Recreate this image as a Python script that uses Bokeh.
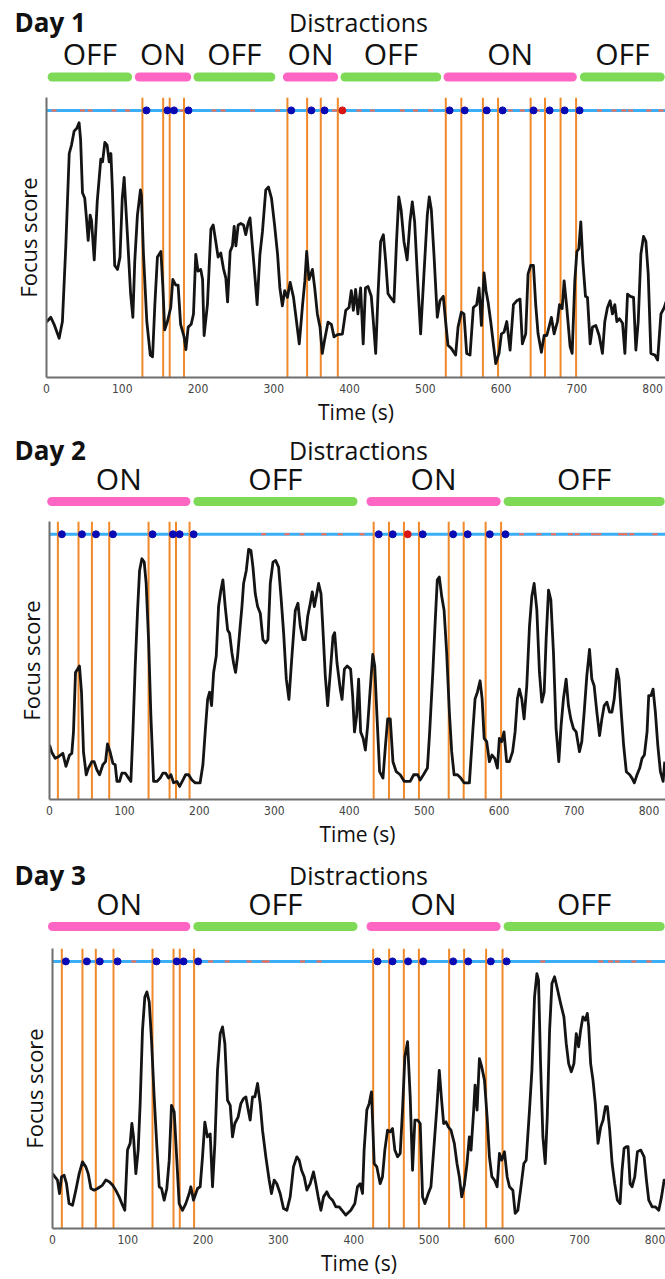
from bokeh.plotting import figure
from bokeh.layouts import column
from bokeh.models import Range1d, FixedTicker
from bokeh.core.properties import value
from bokeh.embed import file_html
from bokeh.resources import INLINE

# ---------------------------------------------------------------- data ----
TIME_TICKS = [0, 100, 200, 300, 400, 500, 600, 700, 800]

# Focus score traces (time in s, score on a 0-100 scale)
DAY1_T = [0, 5.7, 10, 16.7, 21, 25.5, 30, 33, 36.5, 40, 43, 45, 47.5, 50.5, 53, 55, 57.6, 59.4, 63, 67, 71.7, 74, 77, 80, 82.7, 85, 87, 90, 93.7, 97, 100, 102.5, 107, 111, 114, 116.5, 120, 124, 125.3, 128, 132.4, 137, 140, 143, 146.4, 151, 153.5, 156, 159.6, 164, 166.7, 170.6, 173.7, 177, 181.6, 184, 187, 191, 194, 197, 200, 203.6, 206, 208, 212.4, 217, 220, 223.4, 226.5, 230, 233.5, 236.7, 239, 242.4, 245.4, 247.7, 250, 253, 256.4, 260, 263, 266, 268.6, 271.7, 274.8, 278, 281.7, 285, 289.4, 293, 297, 301, 305, 308, 311.3, 314.4, 318, 321.6, 326, 330, 333.6, 338, 341, 343.4, 346.5, 351, 354, 357.5, 361, 364, 367, 371.6, 376, 379.5, 384, 390.5, 395, 399.3, 402.3, 405, 408, 411, 414.6, 418, 421, 424.3, 428.7, 431.4, 434.5, 437.6, 441, 444.6, 447.7, 450.7, 454, 458.6, 462, 465, 468, 471.8, 476, 479.7, 482.8, 485.9, 489.4, 493.8, 498.2, 502.6, 505.2, 507.9, 511.4, 515.8, 519.3, 523.7, 526.8, 529.9, 534.3, 540, 543.2, 547.5, 551, 554.6, 559, 563.4, 567.8, 570.9, 574, 577.5, 580.1, 582.8, 586.3, 589.8, 592.9, 597.3, 600.4, 603.9, 607.5, 611.9, 616.3, 620.6, 625, 628.1, 632.5, 635.6, 639.1, 642.7, 645.7, 648.8, 653.2, 656.8, 660.3, 663.8, 666.4, 670, 674.4, 677.1, 680.6, 683.2, 686.7, 691.1, 693.8, 697.3, 700, 702.6, 705.2, 707.9, 711.4, 714, 717.6, 720.6, 725, 729.4, 733.8, 736.9, 740.4, 743.9, 747, 750.1, 752.8, 756.3, 760.3, 763.4, 766.9, 770.4, 774.8, 777.9, 781, 784.5, 788, 791.1, 794.2, 797.7, 803, 806.6, 811, 815.4, 817.6]
DAY1_SCORE = [19.8, 21.5, 19, 14, 20, 47, 80, 83, 88, 89, 91, 85, 66, 64, 56, 49, 58, 56, 42, 63, 78, 77, 84, 83, 77, 80, 67, 40, 38.6, 43, 64, 71.5, 50, 30, 21.5, 41.5, 58, 67, 65, 44, 20, 8, 7.4, 26, 43, 45, 33, 17, 20, 25, 35, 33, 33, 19, 14.5, 10, 18, 19, 22.7, 44, 38, 38.6, 35, 15, 26, 53, 54.5, 48.6, 43, 44.5, 39, 35.5, 27, 45, 47, 54, 47, 54.5, 55, 54.5, 51, 55, 57, 47, 37, 26, 44, 52, 67, 68, 64, 54.5, 44, 32, 25.6, 31, 28.6, 34, 28.6, 20, 12, 26, 34.5, 45, 35, 38.6, 32, 22.7, 18, 8.6, 13.3, 19.8, 19, 14.5, 15.3, 15.5, 24, 25, 31, 24, 31.5, 22.7, 32, 12, 32, 32.5, 29, 20, 8.6, 30, 48.6, 51, 41.5, 30, 28.6, 27, 48.6, 64.5, 60, 48.6, 42, 55.6, 62.7, 55.6, 37, 15.6, 37, 58, 64.5, 60, 44, 21.5, 27.4, 29, 20, 11.5, 10.4, 8, 18, 23.3, 22.7, 8.6, 8, 25, 26, 32, 18.6, 37.4, 31, 27, 20, 12, 5, 8.6, 15.6, 16.2, 20, 9.8, 26, 27.4, 28, 12, 15.6, 37, 40, 40, 26, 15.6, 9, 15, 15, 18.6, 21.5, 15.6, 20, 26, 24.6, 34.5, 25, 11, 8.6, 34.5, 45, 46, 55.6, 41.5, 29, 28.6, 12, 18, 18.6, 15, 8.6, 20, 25, 27.4, 22.7, 26, 20, 21, 19.4, 8.6, 29.8, 29, 28.6, 9.8, 20, 44, 50.4, 48.6, 37, 8.6, 8, 6.2, 22.7, 25, 27]

DAY2_T = [0, 3, 7.6, 12, 17.8, 22, 26.7, 29.8, 32, 34.7, 37.4, 40, 42.7, 45.4, 49, 52, 56.5, 59.6, 63.2, 66.8, 71.2, 74.8, 77.4, 81, 84.6, 87.7, 90, 93.5, 96.6, 101, 105.5, 108.6, 111.3, 114.4, 117.5, 120.2, 123.3, 126.4, 129, 132.2, 135.3, 138.9, 143.3, 147.7, 151.3, 154.9, 158.9, 162, 165.6, 170, 173.6, 178, 181.6, 185.6, 190, 194.5, 201, 204.7, 207.8, 211, 213.6, 216.3, 219, 222.5, 225.6, 228.7, 231.4, 234.5, 237.7, 240.3, 243.4, 245.7, 248.3, 251, 253.7, 256.8, 259, 262.6, 265.7, 268.8, 271.5, 274.6, 277.7, 281.3, 284.8, 288.4, 291.5, 294.6, 298.2, 301.7, 305.7, 308.9, 312.4, 316, 319.5, 323.5, 328, 331.5, 334.7, 338.2, 341.3, 344.5, 348, 350.7, 353.4, 356, 359.1, 362.3, 364.9, 368, 371.2, 374.7, 378.3, 380.5, 383.7, 388, 390.4, 393.5, 397.3, 401.8, 404.5, 407, 409.8, 412.5, 415.2, 418.5, 421.5, 424.6, 428.3, 431.4, 434, 437, 440.5, 445, 448, 451.3, 454.7, 458.3, 462.7, 468, 473.5, 481.3, 486, 491.4, 494.5, 499, 504.3, 507.3, 511.5, 515, 517.5, 520.2, 523.4, 526.5, 530, 533.6, 536.7, 539.9, 544.3, 548.8, 553.2, 560.3, 564.8, 567.9, 571, 574.6, 577.3, 580, 583.4, 587, 590.5, 594.1, 597.7, 600.3, 603.4, 606.5, 610, 613.7, 618, 621.3, 624.4, 627, 630.2, 633.3, 636.9, 640.5, 643.6, 646.7, 650.3, 653.8, 657, 660.1, 662.7, 665.9, 669, 672.5, 676, 679.6, 682.7, 685.8, 689.4, 692.5, 695.6, 699.2, 702.8, 707.2, 710.3, 713.5, 717, 720.6, 723.7, 726.8, 730.4, 734, 737.1, 740.2, 743.8, 747.4, 750.5, 753.6, 757.2, 759.9, 762.6, 766.1, 769.7, 774.2, 777.3, 780.4, 784, 787.6, 790.7, 793.8, 797.4, 799.6, 802.7, 805.4, 808.5, 811.7, 815.2, 818.8, 821]
DAY2_SCORE = [19.6, 17, 14.8, 15.4, 16.6, 11.9, 16, 16.6, 24.3, 45.7, 46.9, 48, 38.6, 17, 8.9, 11.3, 13.6, 13.6, 10.7, 8.9, 12.5, 13.6, 20, 17, 13, 12.5, 6.5, 6.5, 9.5, 9.5, 7.7, 6.5, 24.3, 48, 68, 82.4, 86.6, 85.4, 77.7, 57.5, 30, 6.5, 6.5, 7.7, 9.5, 9.5, 7.7, 8.9, 6, 6.5, 4.7, 7, 8.9, 8.9, 7, 6, 6, 12.5, 24.3, 36, 38.6, 33.8, 45.7, 51.6, 69.4, 75.3, 79, 69.4, 61, 59.8, 52.8, 49, 45.7, 51.6, 60, 69.4, 77.7, 82.4, 90, 89.6, 83.6, 74, 69.4, 67, 57.5, 56.3, 57.5, 77.7, 85.4, 86, 83.6, 73, 60, 43.3, 36, 51.6, 68, 70.6, 62.3, 57.5, 57.5, 65.8, 70.6, 74.7, 69.4, 73, 77.7, 74, 61, 44.5, 33.8, 45.7, 58.7, 60, 49, 39.7, 36, 46.9, 48, 46.9, 37.4, 24.3, 30, 43.3, 24.3, 22, 17.8, 26.7, 41, 52.2, 48, 30, 10, 7.7, 18.4, 29, 29, 13.6, 10, 8.9, 6.5, 6.5, 8.9, 8.9, 7, 8.9, 11.3, 24.3, 45.7, 65.8, 79, 80, 73, 68.2, 52.8, 31.4, 17.2, 8.9, 8.9, 7.7, 6, 6, 24.3, 36.2, 38.6, 42.7, 36.2, 22, 20.8, 13.6, 16, 14.8, 11.3, 22, 20.8, 24.3, 13.6, 13.6, 17.2, 24.3, 36.2, 39.7, 36.2, 29, 41, 62.3, 73, 77.7, 68.2, 45.7, 35, 38.6, 57.5, 75.3, 71.8, 52.8, 25.5, 13.6, 26.7, 36.2, 43.3, 33.8, 29, 25.5, 24.3, 17.2, 20.8, 31.4, 44.5, 54, 43.3, 40.9, 31.4, 23, 29, 33.8, 35, 31.4, 31.4, 36.2, 46.9, 43.3, 32.6, 19.6, 10, 8.9, 7.7, 6, 8.9, 11.3, 14.8, 16, 24.3, 37.4, 37.4, 39.7, 31.4, 19.6, 10, 6.5, 13.6]

DAY3_T = [0, 3, 6.6, 9.3, 12, 15.5, 18.6, 22, 26.6, 31, 35.4, 39.8, 44.3, 47.4, 51, 55.3, 59.8, 63.3, 66.4, 70.8, 75.3, 79.7, 84, 88.5, 93, 96, 99.6, 103.1, 105.4, 107.6, 110.7, 113.8, 116.4, 119.5, 122.6, 125.3, 128.4, 131.5, 135, 138.6, 141.7, 144.8, 148.3, 151.8, 155, 158, 161.6, 165.1, 168.2, 172.6, 177, 181.5, 183.7, 187.2, 192.6, 196.1, 199.2, 202.3, 205.8, 209.4, 212.5, 215.6, 219.1, 222.7, 225.8, 228.9, 232.4, 236, 239, 242.1, 246.6, 250.1, 253.6, 256.8, 259.9, 262.5, 265.6, 268.7, 272.3, 275.8, 278.9, 283.3, 287.7, 290.8, 294.4, 297.9, 302.3, 306.8, 311.2, 315.6, 320, 324.5, 327.6, 330.7, 334.2, 337.8, 342.2, 346.6, 349.7, 352.8, 356.4, 359.9, 364.3, 367.4, 371.8, 376.3, 380.7, 389.5, 396.2, 401.5, 405, 408.5, 411.7, 413.8, 417.4, 420.5, 423.6, 427.2, 430.7, 435.1, 438.2, 441.3, 444.9, 448.4, 451.5, 454.6, 458.2, 461.7, 464.8, 467.9, 471.5, 475, 478.1, 481.2, 484.8, 488.3, 491.4, 494.5, 499, 502.5, 506.9, 510.5, 513.6, 516.7, 519.4, 522.5, 525.6, 529.1, 533.6, 537.1, 540.2, 543.4, 546.9, 550.4, 553.5, 555.8, 559.3, 561.1, 563.8, 566.9, 570, 573.6, 577.1, 580.2, 583.4, 586.9, 590.4, 593.5, 596.6, 600.2, 603.7, 606.8, 611.3, 614.4, 617.9, 621.5, 625.9, 629, 633.4, 636.6, 640.1, 643.2, 645.4, 648.1, 651.2, 654.3, 657, 660.1, 663.2, 666.7, 670.3, 674.7, 679.1, 682.2, 685.4, 688.9, 692.4, 695.5, 698.6, 701.3, 704.4, 707.5, 710.2, 712, 714.6, 717.7, 720.8, 724.4, 728, 731.1, 734.2, 736.8, 739.9, 743.1, 746.6, 750.1, 753.7, 756.3, 759, 762.1, 764.3, 767, 769.6, 773.2, 776.7, 781.2, 785.6, 788.7, 791.8, 796.3, 800.7, 805.1, 808.7, 812.2, 815.3]
DAY3_SCORE = [19.6, 18.5, 17.3, 12.5, 18.5, 19, 16, 8.9, 8.3, 13.7, 19.6, 23.8, 22, 19.6, 14.3, 13.7, 14.3, 14.9, 15.5, 17.3, 16.7, 15.5, 13.7, 11.3, 8.3, 6.5, 28, 30.4, 37.5, 32.7, 19.6, 28, 44.6, 70.8, 82.7, 84.5, 81, 67.3, 47, 29.2, 14.9, 14.3, 10.1, 14.3, 24.4, 44, 41.7, 24.4, 8.9, 6.5, 8.9, 12.5, 14.9, 10.1, 14.3, 14.9, 25.6, 38, 32.7, 33.8, 14.9, 30.4, 56.5, 69.6, 72, 66, 45.8, 44, 32.7, 37.5, 39.9, 44.6, 46.4, 47, 42.3, 38.7, 47, 47, 51.8, 44.6, 35.1, 25.6, 17.3, 12.5, 17.3, 16, 12.5, 7.1, 6.5, 11.3, 22, 25.6, 24.4, 20.8, 18.5, 13.7, 16, 20.2, 16, 11.3, 6.5, 11.3, 13.1, 11.3, 10.1, 7.7, 7.7, 4.8, 6.5, 8.9, 14.9, 16, 12.5, 28, 42.3, 44.6, 48.8, 23.2, 22, 16, 18.5, 28, 35.1, 34.5, 35.7, 28, 25.6, 26.8, 42.3, 61.3, 66.7, 47, 20.8, 38.7, 38.7, 37.5, 11.3, 8.9, 12.5, 14.9, 30.4, 43.5, 56.5, 45.8, 37.5, 38.1, 36.3, 35.1, 30.4, 23.2, 18.5, 11.3, 15.5, 23.2, 32.7, 28, 42.3, 51.2, 42.3, 60.7, 57.7, 53, 39.9, 25.6, 18.5, 17.3, 14.9, 26.8, 24.4, 27.4, 18.5, 14.9, 13.7, 5.4, 6.5, 13.7, 23.2, 24.4, 42.3, 56.5, 82.7, 91, 88.7, 58.9, 32.7, 23.2, 39.9, 70.8, 87.5, 89.9, 85.7, 80.4, 75.6, 66, 58.9, 56, 58.9, 69.6, 64.9, 70.8, 75.6, 74.4, 76.8, 72, 58.9, 53, 44.6, 30.4, 36.3, 38.7, 43.5, 43.5, 35.1, 23.2, 16, 10.1, 8.9, 20.8, 28.6, 29.2, 29.2, 16, 14.9, 18.5, 27.4, 28, 25.6, 17.3, 10.1, 7.7, 7.7, 6.5, 11.3, 17.3, 16]

# Distraction onsets (s)
DAY1_EVENTS = [126.6, 154, 162.6, 181.5, 318, 344, 362, 384.5, 527, 547.5, 576, 596, 639, 658, 678.5, 699]
DAY2_EVENTS = [11.2, 38.7, 56.6, 79.7, 132.2, 160.2, 168.8, 186.9, 432.6, 453, 473, 493, 532.7, 552.7, 582, 602.6]
DAY3_EVENTS = [12.4, 39.8, 57.5, 81, 132.8, 160.7, 169, 188, 425.8, 447, 466.5, 486.5, 526.7, 546.6, 575.8, 597.6]

# Responses to each distraction (s) and whether it was missed
DAY1_RESP = [131.9, 159.6, 168.3, 187.3, 323, 349.6, 367, 390.5, 532, 552, 581, 602, 642.8, 664, 683.8, 703.6]
DAY1_MISSED = [0, 0, 0, 0, 0, 0, 0, 1, 0, 0, 0, 0, 0, 0, 0, 0]
DAY2_RESP = [16.5, 43.3, 62, 84.6, 137.5, 164.7, 173.6, 192.3, 439.3, 458, 478, 498, 538.6, 558, 587.5, 608.4]
DAY2_MISSED = [0, 0, 0, 0, 0, 0, 0, 0, 0, 0, 1, 0, 0, 0, 0, 0]
DAY3_RESP = [17.7, 45.6, 62.8, 86.3, 138, 165, 174, 193.4, 431.6, 451.5, 472.2, 492.2, 532, 552, 582, 603]
DAY3_MISSED = [0, 0, 0, 0, 0, 0, 0, 0, 0, 0, 0, 0, 0, 0, 0, 0]

# Short stray key presses (s)
DAY1_STRAY = [10, 47.5, 57.6, 89, 107, 179, 221, 233, 272, 305, 380, 412.5, 430, 469.6, 487, 507, 612, 628, 648, 730, 749, 762, 771, 795, 811]
DAY2_STRAY = [285.7, 317, 337, 366, 388, 417, 630, 653, 672.5, 695, 704, 726, 733, 762, 768, 777, 808]
DAY3_STRAY = [108, 210, 232, 261, 281, 285, 332, 354, 651, 728, 741, 750, 772, 792]

# Distraction blocks: visible start, visible end (s) and state
DAY1_BLOCK_START = [1.5, 116.5, 194, 312, 388, 524, 704]
DAY1_BLOCK_END = [113, 191, 302, 385, 521, 700, 816]
DAY1_BLOCK_STATE = ["OFF", "ON", "OFF", "ON", "OFF", "ON", "OFF"]
DAY2_BLOCK_START = [-3, 192, 423, 606]
DAY2_BLOCK_END = [188, 411, 602, 821]
DAY2_BLOCK_STATE = ["ON", "OFF", "ON", "OFF"]
DAY3_BLOCK_START = [-6, 187, 417, 599]
DAY3_BLOCK_END = [183, 405, 595, 813]
DAY3_BLOCK_STATE = ["ON", "OFF", "ON", "OFF"]

DAY_NAMES = ["Day 1", "Day 2", "Day 3"]
HEADER = "Distractions"

# --------------------------------------------------------------- style ----
PAGE_W = 665
GREEN = "#7ED957"
PINK = "#FF66C4"
ORANGE = "#F0892A"
SKY = "#3AAEF6"
NAVY = "#0A0AB4"
RED = "#D81414"
STRAY = "#FF6E50"
AXIS = "#6E6E6E"
FONT = "Open Sans"
TICK_FONT = "'Liberation Sans Narrow', 'DejaVu Sans Condensed', sans-serif"
BAR_W = 9
TRACK_Y = 95.4

# per panel: left margin (px), right end of time axis (s), header height,
# frame height, bottom border, header rows (px from the header top)
PANELS = [
    dict(left=46, x_end=817, head_h=97, frame_h=284, bottom=47, title_y=21, state_y=53, bar_y=76.5),
    dict(left=49, x_end=822, head_h=93, frame_h=281, bottom=48, title_y=21, state_y=50, bar_y=73),
    dict(left=52, x_end=814, head_h=98, frame_h=280, bottom=51, title_y=24, state_y=53, bar_y=76),
]

DATA = [
    (DAY1_T, DAY1_SCORE, DAY1_EVENTS, DAY1_RESP, DAY1_MISSED, DAY1_STRAY,
     DAY1_BLOCK_START, DAY1_BLOCK_END, DAY1_BLOCK_STATE),
    (DAY2_T, DAY2_SCORE, DAY2_EVENTS, DAY2_RESP, DAY2_MISSED, DAY2_STRAY,
     DAY2_BLOCK_START, DAY2_BLOCK_END, DAY2_BLOCK_STATE),
    (DAY3_T, DAY3_SCORE, DAY3_EVENTS, DAY3_RESP, DAY3_MISSED, DAY3_STRAY,
     DAY3_BLOCK_START, DAY3_BLOCK_END, DAY3_BLOCK_STATE),
]


def bare(fig):
    fig.grid.visible = False
    fig.outline_line_color = None
    fig.background_fill_color = "white"
    fig.border_fill_color = "white"
    fig.frame_align = False


def header_fig(name, cfg, b_start, b_end, b_state):
    spp = cfg["x_end"] / (PAGE_W - cfg["left"])  # seconds per pixel
    x0 = -cfg["left"] * spp
    hh = cfg["head_h"]
    h = figure(width=PAGE_W, height=hh, x_range=Range1d(x0, cfg["x_end"]),
               y_range=Range1d(hh, 0), min_border=0,
               x_axis_location=None, y_axis_location=None,
               toolbar_location=None, output_backend="svg")
    bare(h)
    cap = BAR_W / 2 * spp
    colors = [PINK if s == "ON" else GREEN for s in b_state]
    h.segment(x0=[s + cap for s in b_start], x1=[e - cap for e in b_end],
              y0=[cfg["bar_y"]] * len(b_start), y1=[cfg["bar_y"]] * len(b_start),
              line_color=colors, line_width=BAR_W, line_cap="round")
    h.text(x=[(s + e) / 2 for s, e in zip(b_start, b_end)],
           y=[cfg["state_y"]] * len(b_start), text=b_state,
           text_font=value(FONT), text_font_size="30px", text_color="#111111",
           text_align="center", text_baseline="middle")
    h.text(x=[x0 + 14 * spp], y=[cfg["title_y"]], text=[name],
           text_font=value(FONT), text_font_size="26px", text_font_style="bold",
           text_color="#111111", text_align="left", text_baseline="middle")
    h.text(x=[x0 + 358 * spp], y=[cfg["title_y"]], text=[HEADER],
           text_font=value(FONT), text_font_size="25px", text_color="#111111",
           text_align="center", text_baseline="middle")
    return h


def trace_fig(cfg, t, score, events, resp, missed, stray):
    p = figure(width=PAGE_W, height=cfg["frame_h"] + cfg["bottom"],
               x_range=Range1d(0, cfg["x_end"]), y_range=Range1d(0, 100),
               min_border_left=cfg["left"], min_border_right=0, min_border_top=0,
               min_border_bottom=cfg["bottom"],
               toolbar_location=None, output_backend="svg")
    bare(p)

    xa = p.xaxis[0]
    xa.ticker = FixedTicker(ticks=TIME_TICKS)
    xa.axis_label = "Time (s)"
    xa.axis_label_text_font = FONT
    xa.axis_label_text_font_size = "21px"
    xa.axis_label_text_font_style = "normal"
    xa.axis_label_text_color = "#111111"
    xa.axis_label_standoff = 2
    xa.major_label_text_font = TICK_FONT
    xa.major_label_text_font_size = "12px"
    xa.major_label_text_color = "#444444"
    xa.major_label_standoff = 6
    xa.major_tick_line_color = None
    xa.major_tick_out = 0
    xa.minor_tick_line_color = None
    xa.axis_line_color = AXIS
    xa.axis_line_width = 2

    ya = p.yaxis[0]
    ya.ticker = FixedTicker(ticks=[])
    ya.axis_label = "Focus score"
    ya.axis_label_text_font = FONT
    ya.axis_label_text_font_size = "22px"
    ya.axis_label_text_font_style = "normal"
    ya.axis_label_text_color = "#111111"
    ya.axis_label_standoff = 4
    ya.major_tick_out = 0
    ya.major_tick_in = 0
    ya.minor_tick_line_color = None
    ya.axis_line_color = AXIS
    ya.axis_line_width = 2

    # response track
    p.segment(x0=[0], x1=[cfg["x_end"]], y0=[TRACK_Y], y1=[TRACK_Y],
              line_color=SKY, line_width=3)
    p.scatter(x=stray, y=[TRACK_Y] * len(stray), marker="dash", size=5,
              line_color=STRAY, line_width=2)
    # distraction onsets
    p.segment(x0=events, x1=events, y0=[0] * len(events), y1=[100] * len(events),
              line_color=ORANGE, line_width=2)
    colors = [RED if m else NAVY for m in missed]
    p.scatter(x=resp, y=[TRACK_Y] * len(resp), size=7,
              fill_color=colors, line_color=colors)
    # focus score
    p.line(t, score, line_color="#141414", line_width=2.8, line_join="round")
    return p


rows = []
for name, cfg, d in zip(DAY_NAMES, PANELS, DATA):
    t, score, events, resp, missed, stray, b_start, b_end, b_state = d
    rows.append(header_fig(name, cfg, b_start, b_end, b_state))
    rows.append(trace_fig(cfg, t, score, events, resp, missed, stray))

layout = column(*rows, spacing=0)
open("out.html", "w").write(file_html(layout, INLINE))
